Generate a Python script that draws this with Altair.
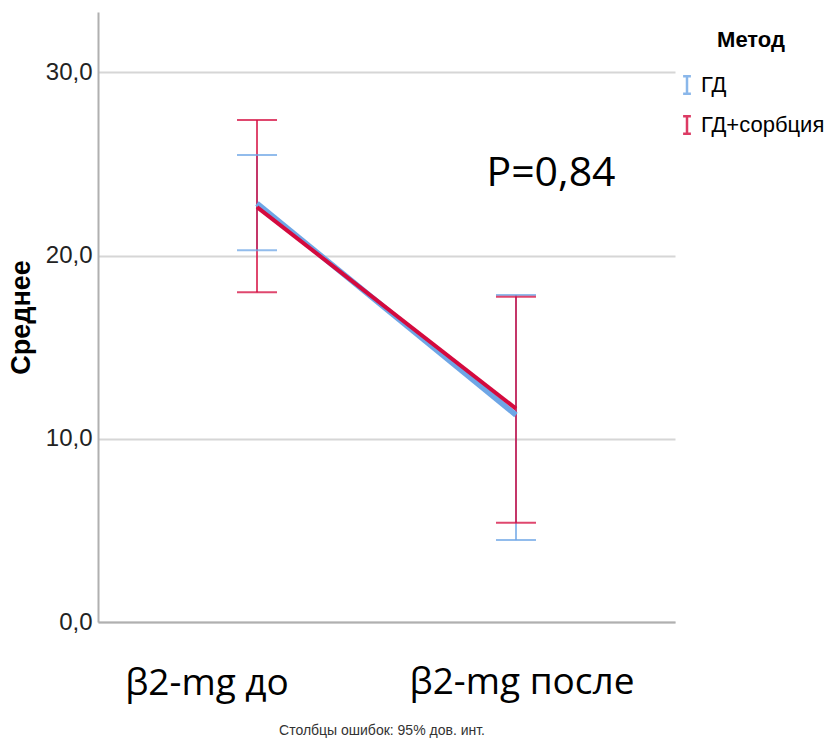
import altair as alt
import pandas as pd

categories = ["β2-mg до", "β2-mg после"]
methods = ["ГД", "ГД+сорбция"]
gd_mean = [22.85, 11.3]
gd_low = [20.3, 4.47]
gd_high = [25.5, 17.85]
sorb_mean = [22.65, 11.65]
sorb_low = [18.0, 5.42]
sorb_high = [27.4, 17.75]
y_ticks = [0, 10, 20, 30]
colors = ["#6ea6e6", "#d40a3e"]

rows = []
for m, mean, lo, hi in [(methods[0], gd_mean, gd_low, gd_high),
                        (methods[1], sorb_mean, sorb_low, sorb_high)]:
    for i, c in enumerate(categories):
        rows.append({"cat": c, "method": m, "mean": mean[i], "lo": lo[i], "hi": hi[i]})
df = pd.DataFrame(rows)
cat_df = pd.DataFrame({"cat": categories})

SANS = "Liberation Sans"
W, H = 577, 610
xs = alt.X("cat:N", sort=categories, title=None,
           scale=alt.Scale(type="point", padding=0.614),
           axis=alt.Axis(labels=False, ticks=False,
                         domainColor="#b0b0b0", domainWidth=2, grid=False))
ys = alt.Y("mean:Q", title="Среднее",
           scale=alt.Scale(domain=[0, 33.3], nice=False, zero=True),
           axis=alt.Axis(values=y_ticks, labelExpr="replace(format(datum.value, '.1f'), '.', ',')",
                         labelFont=SANS, labelFontSize=24, labelColor="#222",
                         labelPadding=6, ticks=False, domainColor="#b0b0b0", domainWidth=2,
                         grid=True, gridColor="#d6d6d6", gridWidth=2,
                         titleFont=SANS, titleFontSize=27, titleFontWeight="bold",
                         titleColor="black", titlePadding=10))
color = alt.Color("method:N", sort=methods,
                  scale=alt.Scale(domain=methods, range=colors),
                  legend=alt.Legend(title=None, orient="none", legendX=578, legendY=62,
                                    symbolType="M-0.45,-1H0.45M0,-1V1M-0.45,1H0.45",
                                    symbolSize=300, symbolStrokeWidth=2.5, symbolOpacity=0.8,
                                    labelFont=SANS, labelFontSize=22,
                                    labelColor="black", rowPadding=12, labelOffset=3))

base = alt.Chart(df)
rules = base.mark_rule(strokeWidth=2, opacity=0.75).encode(
    x=xs, y=alt.Y("lo:Q"), y2="hi:Q", color=color)
caps_lo = base.mark_tick(size=40, thickness=2, opacity=0.75).encode(
    x=xs, y=alt.Y("lo:Q"), color=color)
caps_hi = base.mark_tick(size=40, thickness=2, opacity=0.75).encode(
    x=xs, y=alt.Y("hi:Q"), color=color)
line_gd = base.transform_filter(alt.datum.method == methods[0]).mark_line(strokeWidth=5.5).encode(
    x=xs, y=ys, color=color)
line_s = base.transform_filter(alt.datum.method == methods[1]).mark_line(strokeWidth=4).encode(
    x=xs, y=ys, color=color)

xlab_1 = alt.Chart(cat_df).transform_filter(alt.datum.cat == categories[0]).mark_text(
    font="Open Sans", fontSize=37, color="black", align="center", baseline="alphabetic", dx=-50
).encode(x=xs, y=alt.value(H + 73), text="cat:N")
xlab_2 = alt.Chart(cat_df).transform_filter(alt.datum.cat == categories[1]).mark_text(
    font="Open Sans", fontSize=37, color="black", align="center", baseline="alphabetic", dx=6
).encode(x=xs, y=alt.value(H + 72), text="cat:N")

ann = alt.Chart(pd.DataFrame({"t": ["P=0,84"]})).mark_text(
    font="Open Sans", fontSize=41, color="black", align="center", baseline="middle"
).encode(text="t:N", x=alt.value(453), y=alt.value(162))
legend_title = alt.Chart(pd.DataFrame({"t": ["Метод"]})).mark_text(
    font=SANS, fontSize=22, fontWeight="bold", color="black",
    align="center", baseline="middle"
).encode(text="t:N", x=alt.value(653), y=alt.value(28))
foot = alt.Chart(pd.DataFrame({"t": ["Столбцы ошибок: 95% дов. инт."]})).mark_text(
    font=SANS, fontSize=14, color="#333", align="center", baseline="middle"
).encode(text="t:N", x=alt.value(284), y=alt.value(719))

chart = alt.layer(rules, caps_lo, caps_hi, line_gd, line_s, xlab_1, xlab_2,
                  ann, legend_title, foot).properties(
    width=W, height=H,
    autosize=alt.AutoSizeParams(type="none"),
    padding={"left": 98, "top": 12, "right": 156, "bottom": 121},
    background="white",
).configure_view(stroke=None)

chart.save("out.html", embed_options={"renderer": "svg", "actions": False})
